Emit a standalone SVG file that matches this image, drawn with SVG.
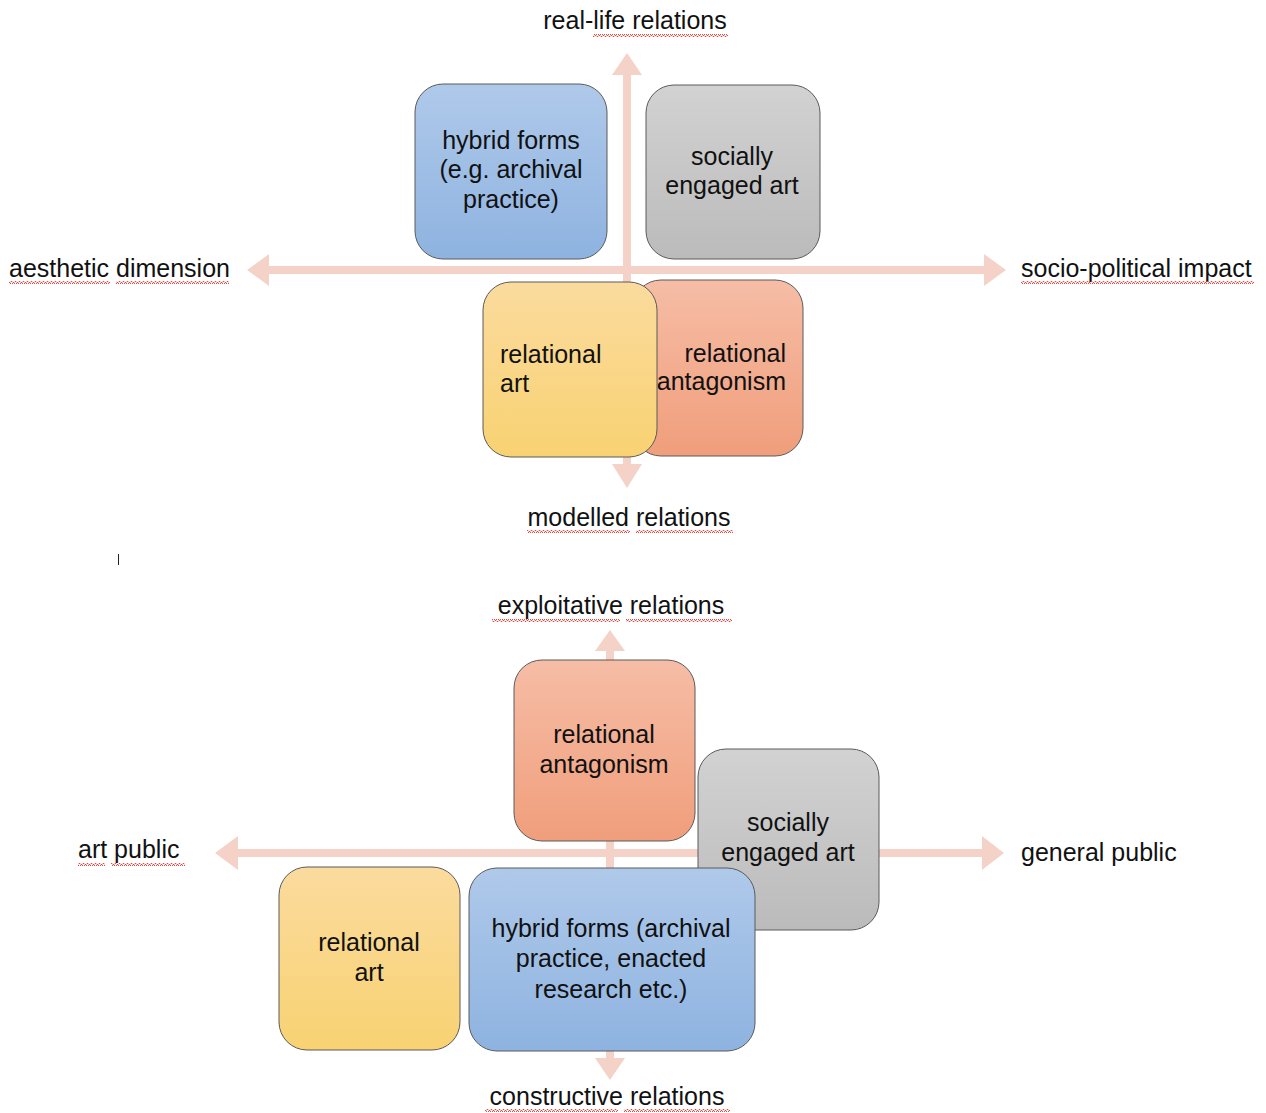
<svg xmlns="http://www.w3.org/2000/svg" width="1266" height="1113" viewBox="0 0 1266 1113">
<style>
.lbl{font-family:"Liberation Sans",Arial,sans-serif;font-size:25px;fill:#111}
.box{stroke:#5a5a5a;stroke-width:1}
.axis{fill:#f4d2c8}
.wave{fill:url(#wavy)}
</style>
<defs>
<linearGradient id="gBlue" x1="0" y1="0" x2="0" y2="1"><stop offset="0" stop-color="#afc9ea"/><stop offset="1" stop-color="#8eb3e0"/></linearGradient>
<linearGradient id="gGray" x1="0" y1="0" x2="0" y2="1"><stop offset="0" stop-color="#d2d2d2"/><stop offset="1" stop-color="#bbbbbb"/></linearGradient>
<linearGradient id="gOrange" x1="0" y1="0" x2="0" y2="1"><stop offset="0" stop-color="#f6bda6"/><stop offset="1" stop-color="#f09e7b"/></linearGradient>
<linearGradient id="gYellow" x1="0" y1="0" x2="0" y2="1"><stop offset="0" stop-color="#fbdb9e"/><stop offset="1" stop-color="#f8d272"/></linearGradient>
<pattern id="wavy" width="4" height="3" patternUnits="userSpaceOnUse"><polyline points="0,2.5 1,0.5 2,0.5 3,2.5 4,2.5" fill="none" stroke="#e03a33" stroke-width="0.9"/></pattern>
</defs>

<g id="connectors">
  <polygon id="axis-top-h" class="axis" points="247,270 269,254 269,266 984,266 984,254 1006,270 984,286 984,274 269,274 269,286"/>
  <polygon id="axis-top-v" class="axis" points="627,53 642,75 631,75 631,464 642,464 627,488 612,464 623,464 623,75 612,75"/>
  <polygon id="axis-bot-h" class="axis" points="215,853 238,836 238,849 982,849 982,836 1004,853 982,870 982,857 238,857 238,870"/>
  <polygon id="axis-bot-v" class="axis" points="610,630 625,651 614,651 614,1058 625,1058 610,1080 595,1058 606,1058 606,651 595,651"/>
</g>

<!-- top diagram labels -->
<g id="label-real-life">
  <text class="lbl" x="635" y="29" text-anchor="middle">real-life relations</text>
  <rect class="wave" x="593" y="34" width="135" height="3"/>
</g>
<g id="label-aesthetic">
  <text class="lbl" x="9" y="277">aesthetic dimension</text>
  <rect class="wave" x="9" y="281" width="101" height="3"/>
  <rect class="wave" x="116" y="281" width="113" height="3"/>
</g>
<g id="label-socio">
  <text class="lbl" x="1021" y="277">socio-political impact</text>
  <rect class="wave" x="1021" y="281" width="233" height="3"/>
</g>
<g id="label-modelled">
  <text class="lbl" x="629" y="526" text-anchor="middle">modelled relations</text>
  <rect class="wave" x="527" y="530" width="103" height="3"/>
  <rect class="wave" x="636" y="530" width="97" height="3"/>
</g>

<g id="node-top-hybrid">
  <rect class="box" x="415" y="84" width="192" height="175" rx="28" fill="url(#gBlue)"/>
  <text class="lbl" x="511" y="149" text-anchor="middle">hybrid forms</text>
  <text class="lbl" x="511" y="178" text-anchor="middle">(e.g. archival</text>
  <text class="lbl" x="511" y="208" text-anchor="middle">practice)</text>
</g>
<g id="node-top-socially">
  <rect class="box" x="646" y="85" width="174" height="174" rx="28" fill="url(#gGray)"/>
  <text class="lbl" x="732" y="165" text-anchor="middle">socially</text>
  <text class="lbl" x="732" y="194" text-anchor="middle">engaged art</text>
</g>
<g id="node-top-antagonism">
  <rect class="box" x="633" y="280" width="170" height="176" rx="28" fill="url(#gOrange)"/>
  <text class="lbl" x="786" y="362" text-anchor="end">relational</text>
  <text class="lbl" x="786" y="390" text-anchor="end">antagonism</text>
</g>
<g id="node-top-relational-art">
  <rect class="box" x="483" y="282" width="174" height="175" rx="28" fill="url(#gYellow)"/>
  <text class="lbl" x="500" y="363">relational</text>
  <text class="lbl" x="500" y="392">art</text>
</g>

<line id="text-cursor" x1="118.5" y1="554" x2="118.5" y2="565" stroke="#222" stroke-width="1"/>

<!-- bottom diagram labels -->
<g id="label-exploitative">
  <text class="lbl" x="611" y="614" text-anchor="middle">exploitative relations</text>
  <rect class="wave" x="492" y="619" width="128" height="3"/>
  <rect class="wave" x="626" y="619" width="106" height="3"/>
</g>
<g id="label-art-public">
  <text class="lbl" x="78" y="858">art public</text>
  <rect class="wave" x="78" y="863" width="27" height="3"/>
  <rect class="wave" x="111" y="863" width="74" height="3"/>
</g>
<g id="label-general-public">
  <text class="lbl" x="1021" y="861">general public</text>
</g>
<g id="label-constructive">
  <text class="lbl" x="607" y="1105" text-anchor="middle">constructive relations</text>
  <rect class="wave" x="485" y="1109" width="133" height="3"/>
  <rect class="wave" x="624" y="1109" width="106" height="3"/>
</g>

<g id="node-bot-antagonism">
  <rect class="box" x="514" y="660" width="181" height="181" rx="28" fill="url(#gOrange)"/>
  <text class="lbl" x="604" y="743" text-anchor="middle">relational</text>
  <text class="lbl" x="604" y="773" text-anchor="middle">antagonism</text>
</g>
<g id="node-bot-relational-art">
  <rect class="box" x="279" y="867" width="181" height="183" rx="28" fill="url(#gYellow)"/>
  <text class="lbl" x="369" y="951" text-anchor="middle">relational</text>
  <text class="lbl" x="369" y="981" text-anchor="middle">art</text>
</g>
<g id="node-bot-socially">
  <rect class="box" x="698" y="749" width="181" height="181" rx="28" fill="url(#gGray)"/>
  <text class="lbl" x="788" y="831" text-anchor="middle">socially</text>
  <text class="lbl" x="788" y="861" text-anchor="middle">engaged art</text>
</g>
<g id="node-bot-hybrid">
  <rect class="box" x="469" y="868" width="286" height="183" rx="28" fill="url(#gBlue)"/>
  <text class="lbl" x="611" y="937" text-anchor="middle" font-size="26">hybrid forms (archival</text>
  <text class="lbl" x="611" y="967" text-anchor="middle" font-size="26">practice, enacted</text>
  <text class="lbl" x="611" y="998" text-anchor="middle" font-size="26">research etc.)</text>
</g>
</svg>
